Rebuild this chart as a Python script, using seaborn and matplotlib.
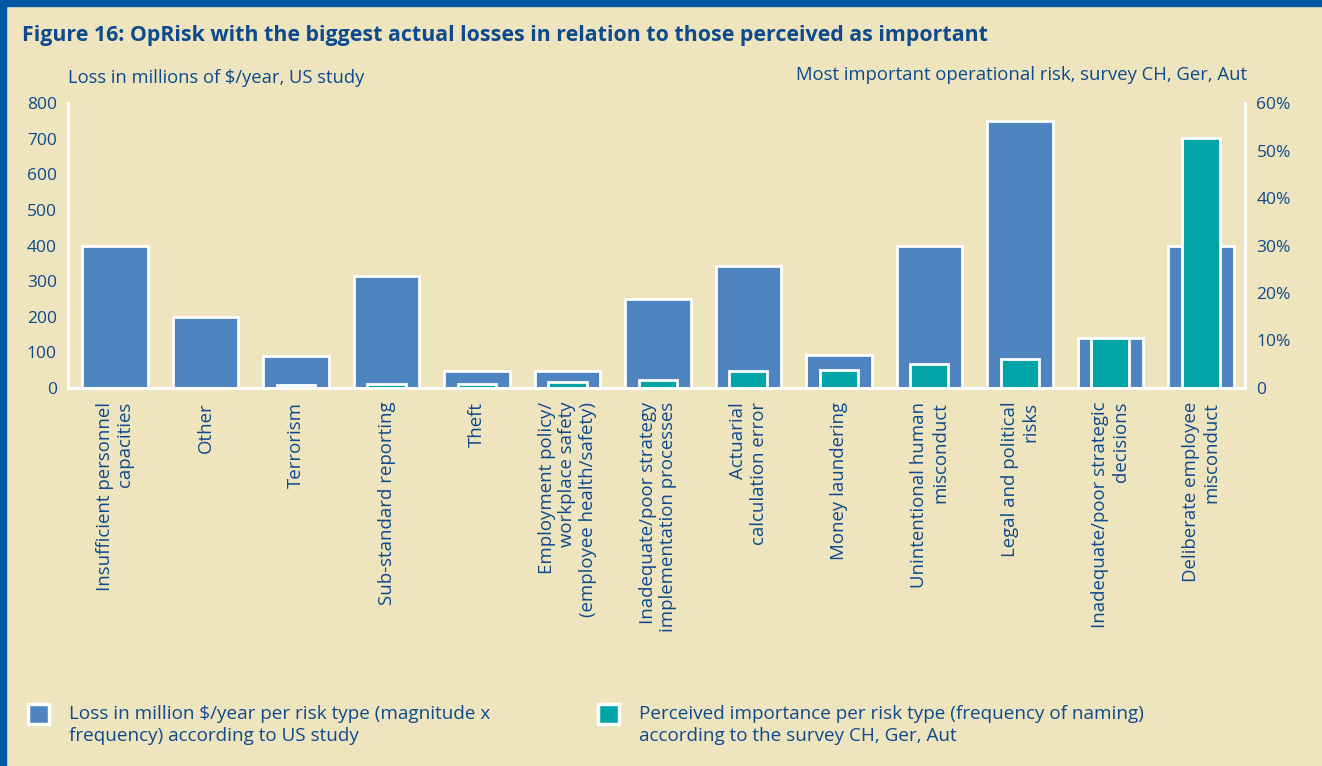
import matplotlib
matplotlib.use("Agg")
import matplotlib.pyplot as plt
import matplotlib.patches as mpatches
import pandas as pd
import seaborn as sns

# categories (left to right)
categories = [
    "Insufficient personnel\ncapacities",
    "Other",
    "Terrorism",
    "Sub-standard reporting",
    "Theft",
    "Employment policy/\nworkplace safety\n(employee health/safety)",
    "Inadequate/poor strategy\nimplementation processes",
    "Actuarial\ncalculation error",
    "Money laundering",
    "Unintentional human\nmisconduct",
    "Legal and political\nrisks",
    "Inadequate/poor strategic\ndecisions",
    "Deliberate employee\nmisconduct",
]
# loss in millions $/year, US study (left axis)
loss_musd = [400, 200, 90, 315, 47, 47, 250, 343, 92, 400, 750, 140, 400]
# perceived importance, survey CH/Ger/Aut, in % (right axis)
importance_pct = [0, 0, 0.6, 0.8, 0.8, 1.3, 1.7, 3.6, 3.8, 5.0, 6.2, 10.6, 52.6]

left_ticks = [0, 100, 200, 300, 400, 500, 600, 700, 800]
right_ticks = [0, 10, 20, 30, 40, 50, 60]

legend_labels = [
    "Loss in million $/year per risk type (magnitude x\nfrequency) according to US study",
    "Perceived importance per risk type (frequency of naming)\naccording to the survey CH, Ger, Aut",
]

BG = "#EEE4BE"
BLUE = "#4E84C0"
TEAL = "#00A4A6"
NAVY = "#0D4A8E"
FRAME = "#0057A3"

W, H = 1322, 766

sns.set_style("white")
plt.rcParams["font.family"] = ["Open Sans", "DejaVu Sans"]

df = pd.DataFrame({"risk": categories, "loss": loss_musd, "pct": importance_pct})

fig = plt.figure(figsize=(W / 100, H / 100), dpi=100, facecolor=BG)
ax = fig.add_axes([0.0514, 0.4935, 0.8906, 0.372])
ax.set_facecolor(BG)

sns.barplot(data=df, x="risk", y="loss", color=BLUE, width=0.72,
            edgecolor="white", linewidth=2, saturation=1, ax=ax)
ax.set_ylim(0, 800)
ax.set_xlim(-0.52, 12.49)
ax.set_yticks(left_ticks)
ax.set_yticklabels([str(t) for t in left_ticks])

ax2 = ax.twinx()
sns.barplot(data=df, x="risk", y="pct", color=TEAL, width=0.42,
            edgecolor="white", linewidth=2, saturation=1, ax=ax2)
ax2.set_ylim(0, 60)
ax2.set_xlim(-0.52, 12.49)
ax2.set_yticks(right_ticks)
ax2.set_yticklabels(["0"] + [f"{t}%" for t in right_ticks[1:]])

for a in (ax, ax2):
    a.set_xlabel("")
    a.set_ylabel("")
    a.spines["top"].set_visible(False)
    for s in ("left", "right", "bottom"):
        a.spines[s].set_color("white")
        a.spines[s].set_linewidth(2)
    a.tick_params(axis="both", length=0, colors=NAVY, labelsize=12.5)
ax2.patch.set_visible(False)

ax.set_xticks(range(len(categories)))
ax.set_xticklabels(categories, rotation=90, va="top", ha="center",
                   multialignment="right", color=NAVY, fontsize=13.4)
ax.tick_params(axis="x", pad=10)
ax.tick_params(axis="y", pad=8)
ax2.tick_params(axis="y", pad=8)

# axis captions
fig.text(68 / W, 1 - 78 / H, "Loss in millions of $/year, US study",
         color=NAVY, fontsize=13.2, ha="left", va="center")
fig.text(1247 / W, 1 - 75 / H,
         "Most important operational risk, survey CH, Ger, Aut",
         color=NAVY, fontsize=13.3, ha="right", va="center")

# title
fig.text(22 / W, 1 - 35 / H,
         "Figure 16: OpRisk with the biggest actual losses in relation to those perceived as important",
         color=NAVY, fontsize=15.4, fontweight="bold", ha="left", va="center")

# frame bands (top and left)
fig.patches.append(mpatches.Rectangle((0, 1 - 6 / H), 1, 6 / H,
                                      transform=fig.transFigure, color=FRAME, zorder=5))
fig.patches.append(mpatches.Rectangle((0, 0), 6 / W, 1,
                                      transform=fig.transFigure, color=FRAME, zorder=5))

# legend, drawn by hand: swatch aligned with the first text line
for (sx, tx), col, lab in zip([(28, 69), (598, 639)], [BLUE, TEAL], legend_labels):
    fig.patches.append(mpatches.Rectangle((sx / W, 1 - 724 / H), 21 / W, 20 / H,
                                          transform=fig.transFigure, facecolor=col,
                                          edgecolor="white", linewidth=2.5))
    fig.text(tx / W, 1 - 725 / H, lab, color=NAVY, fontsize=13.6,
             ha="left", va="center", linespacing=1.24)

fig.savefig("out.png", dpi=100, facecolor=BG)
